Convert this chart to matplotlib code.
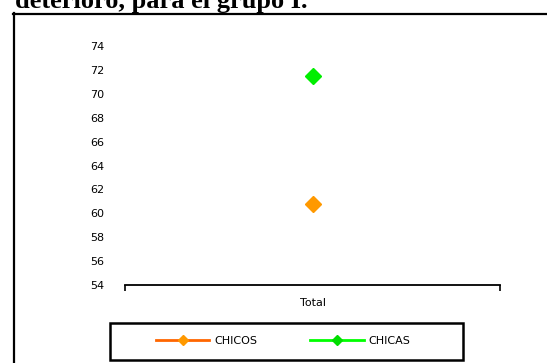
import matplotlib
matplotlib.use("Agg")
import matplotlib.pyplot as plt
from matplotlib.lines import Line2D
from matplotlib.patches import Rectangle

# values
categories = ["Total"]
chicos = [60.8]
chicas = [71.5]
yticks = list(range(54, 75, 2))

W, H = 547, 363
fig = plt.figure(figsize=(W / 100, H / 100), dpi=100)

def fx(px):
    return px / W

def fy(py):
    return 1 - py / H

# cropped title and outer frame
fig.text(fx(15), fy(8), "deterioro, para el grupo I.", family="Liberation Serif",
         weight="bold", fontsize=19, va="baseline", ha="left")
fig.add_artist(Line2D([fx(13.5), fx(13.5)], [fy(13), 0], color="black", lw=1.6))
fig.add_artist(Line2D([fx(13), 1], [fy(13.5), fy(13.5)], color="black", lw=1.6))

ax = fig.add_axes([fx(125), fy(285), fx(500) - fx(125), fy(46) - fy(285)])
x = [0.5]
ax.plot(x, chicos, color="#FF6600", marker="D", markersize=8,
        markerfacecolor="#FF9900", markeredgecolor="#FF9900")
ax.plot(x, chicas, color="#00FF00", marker="D", markersize=8,
        markerfacecolor="#00EE00", markeredgecolor="#00EE00")

ax.set_xlim(0, 1)
ax.set_ylim(54, 74)
ax.set_yticks(yticks)
ax.tick_params(axis="y", length=0, labelsize=8, pad=15)
ax.set_xticks(x, categories)
ax.set_xticks([0, 1], minor=True)
ax.tick_params(axis="x", which="major", length=0, labelsize=8, pad=9)
ax.tick_params(axis="x", which="minor", length=4, width=1.2, direction="out")
for s in ["top", "right", "left"]:
    ax.spines[s].set_visible(False)
ax.spines["bottom"].set_linewidth(1.3)

# legend with its own box
fig.add_artist(Rectangle((fx(110), fy(360)), fx(463) - fx(110), fy(323) - fy(360),
                         transform=fig.transFigure, fill=False, edgecolor="black", lw=1.8))
handles = [
    Line2D([], [], color="#FF6600", lw=2, marker="D", markersize=5,
           markerfacecolor="#FF9900", markeredgecolor="#FF9900"),
    Line2D([], [], color="#00FF00", lw=2, marker="D", markersize=5,
           markerfacecolor="#00DD00", markeredgecolor="#00DD00"),
]
fig.legend(handles, ["CHICOS", "CHICAS"], loc="center", bbox_to_anchor=(fx(283), fy(341)),
           ncol=2, frameon=False, fontsize=8, handlelength=4.8, handletextpad=0.4,
           columnspacing=4.8)

fig.savefig("out.png", dpi=100)
